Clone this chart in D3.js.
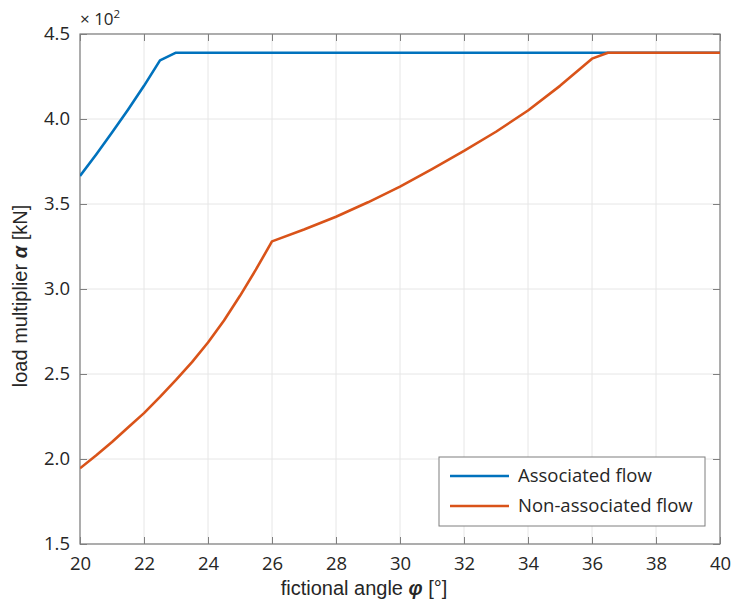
<!DOCTYPE html>
<html>
<head>
<meta charset="utf-8">
<script src="https://cdn.jsdelivr.net/npm/d3@7"></script>
<style>
  body { margin: 0; background: #fff; }
  text { font-family: "Open Sans", "Noto Sans", sans-serif; fill: #262626; }
  .title { font-family: "Liberation Sans", Arial, sans-serif; }
</style>
</head>
<body>
<svg id="chart" width="732" height="601"></svg>
<script>
// angles (deg) and load multiplier values (kN)
const assocAngle = [20, 20.5, 21, 21.5, 22, 22.5, 23, 24, 26, 28, 30, 32, 34, 36, 38, 40];
const assocLoad = [366.5, 379, 392, 405.5, 419.5, 434.5, 439, 439, 439, 439, 439, 439, 439, 439, 439, 439];

const nonAssocAngle = [20, 20.5, 21, 21.5, 22, 22.5, 23, 23.5, 24, 24.5, 25, 25.5, 26,
  27, 28, 29, 30, 31, 32, 33, 34, 35, 36, 36.5, 38, 40];
const nonAssocLoad = [194.5, 202, 210, 218.5, 227, 236.5, 246.5, 257, 268.5, 281.5, 296, 311.5, 328,
  335, 342.5, 351, 360.2, 370.5, 381.2, 392.5, 405, 419.5, 435.5, 439, 439, 439];

const xTicks = [20, 22, 24, 26, 28, 30, 32, 34, 36, 38, 40];
const yTicks = [150, 200, 250, 300, 350, 400, 450];

const svg = d3.select("#chart");
const margin = { top: 34, right: 12, bottom: 57, left: 80 };
const width = 732, height = 601;
const innerW = width - margin.left - margin.right;
const innerH = height - margin.top - margin.bottom;

const x = d3.scaleLinear().domain([20, 40]).range([0, innerW]);
const y = d3.scaleLinear().domain([150, 450]).range([innerH, 0]);

const g = svg.append("g").attr("transform", `translate(${margin.left},${margin.top})`);

// grid
g.append("g").selectAll("line").data(xTicks).join("line")
  .attr("x1", d => x(d)).attr("x2", d => x(d))
  .attr("y1", 0).attr("y2", innerH)
  .attr("stroke", "#e6e6e6").attr("stroke-width", 1);
g.append("g").selectAll("line").data(yTicks).join("line")
  .attr("y1", d => y(d)).attr("y2", d => y(d))
  .attr("x1", 0).attr("x2", innerW)
  .attr("stroke", "#e6e6e6").attr("stroke-width", 1);

// axes, ticks inward
const axisColor = "#7f7f7f";
const styleAxis = sel => {
  sel.select(".domain").remove();
  sel.selectAll(".tick line").attr("stroke", axisColor);
  sel.selectAll(".tick text").style("font-size", "18.5px").attr("fill", "#262626");
};

g.append("g").attr("transform", `translate(0,${innerH})`)
  .call(d3.axisBottom(x).tickValues(xTicks).tickSize(-7).tickPadding(13).tickFormat(d3.format("d")))
  .call(styleAxis);
g.append("g")
  .call(d3.axisTop(x).tickValues(xTicks).tickSize(-7).tickFormat(""))
  .call(styleAxis);
g.append("g")
  .call(d3.axisLeft(y).tickValues(yTicks).tickSize(-7).tickPadding(10).tickFormat(d => (d / 100).toFixed(1)))
  .call(styleAxis);
g.append("g").attr("transform", `translate(${innerW},0)`)
  .call(d3.axisRight(y).tickValues(yTicks).tickSize(-7).tickFormat(""))
  .call(styleAxis);

g.append("rect")
  .attr("width", innerW).attr("height", innerH)
  .attr("fill", "none").attr("stroke", axisColor).attr("stroke-width", 1.2);

// lines
const line = d3.line().x(d => x(d[0])).y(d => y(d[1]));
g.append("clipPath").attr("id", "clip").append("rect")
  .attr("width", innerW).attr("height", innerH);

g.append("path")
  .datum(assocAngle.map((a, i) => [a, assocLoad[i]]))
  .attr("d", line).attr("fill", "none")
  .attr("stroke", "#0072BD").attr("stroke-width", 2.6)
  .attr("stroke-linejoin", "round")
  .attr("clip-path", "url(#clip)");
g.append("path")
  .datum(nonAssocAngle.map((a, i) => [a, nonAssocLoad[i]]))
  .attr("d", line).attr("fill", "none")
  .attr("stroke", "#D95319").attr("stroke-width", 2.6)
  .attr("stroke-linejoin", "round")
  .attr("clip-path", "url(#clip)");

// exponent label
const expo = svg.append("text").attr("x", margin.left).attr("y", 25).style("font-size", "17px");
expo.append("tspan").text("× 10");
expo.append("tspan").attr("dy", -7).style("font-size", "11.5px").text("2");

// axis titles
const xt = svg.append("text").attr("class", "title")
  .attr("x", 364).attr("y", 595)
  .attr("text-anchor", "middle").style("font-size", "20px");
xt.append("tspan").text("fictional angle ");
xt.append("tspan").style("font-weight", "bold").style("font-style", "italic").text("φ");
xt.append("tspan").text(" [°]");

const yt = svg.append("text").attr("class", "title")
  .attr("transform", "translate(27,296) rotate(-90)")
  .attr("text-anchor", "middle").style("font-size", "20px");
yt.append("tspan").text("load multiplier ");
yt.append("tspan").style("font-weight", "bold").style("font-style", "italic").text("α");
yt.append("tspan").text(" [kN]");

// legend
const legendNames = ["Associated flow", "Non-associated flow"];
const legendColors = ["#0072BD", "#D95319"];
const lg = svg.append("g").attr("transform", "translate(439,457)");
lg.append("rect").attr("width", 266).attr("height", 69)
  .attr("fill", "#fff").attr("stroke", "#7f7f7f").attr("stroke-width", 1);
legendNames.forEach((name, i) => {
  const row = lg.append("g").attr("transform", `translate(0,${19 + i * 30})`);
  row.append("line").attr("x1", 11).attr("x2", 70)
    .attr("stroke", legendColors[i]).attr("stroke-width", 2.6);
  row.append("text").attr("x", 79).attr("dy", "0.35em")
    .style("font-size", "18.5px").text(name);
});
</script>
</body>
</html>
